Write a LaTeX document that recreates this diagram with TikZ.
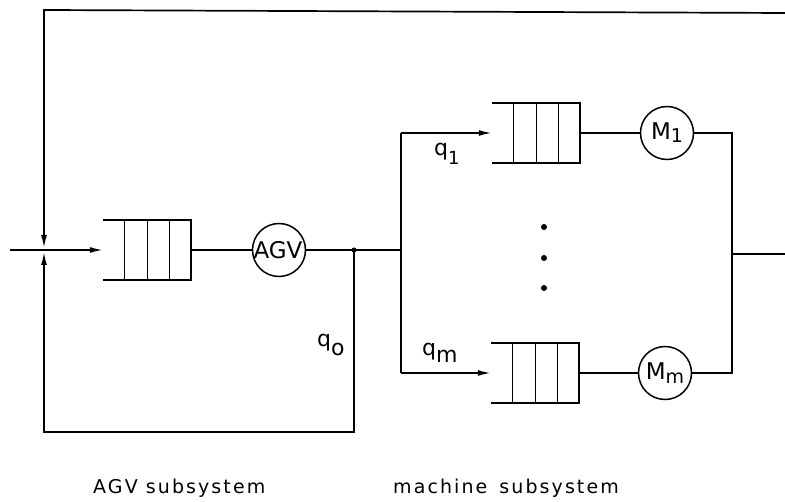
\documentclass[tikz,border=0pt]{standalone}
\usepackage{fontspec}
\setmainfont{DejaVu Sans}
\newfontfamily\spaced[LetterSpace=11]{DejaVu Sans}
\usetikzlibrary{arrows.meta,calc}
\begin{document}
\begin{tikzpicture}[x=1pt,y=-1pt,
  line/.style={line width=1.7pt},
  thin/.style={line width=0.9pt},
  arr/.style={line, -{Latex[length=13pt,width=6pt]}},
  queue/.style={rectangle, minimum width=88pt, minimum height=59pt, inner sep=0pt},
  server/.style={circle, draw, line width=1.5pt, minimum size=53pt, inner sep=0pt, font=\fontsize{23}{23}\selectfont},
  lab/.style={font=\spaced\fontsize{19}{22}\selectfont, inner sep=0pt},
  qlab/.style={font=\fontsize{22}{24}\selectfont, inner sep=0pt},
  dot/.style={circle, fill, inner sep=0pt, minimum size=6pt}]
\useasboundingbox (0,0) rectangle (785,502);

% nodes
\node[queue] (Q0) at (147,250) {};
\node[server] (AGV) at (279,250) {\hspace{-2pt}AGV\hspace{-2pt}};
\node[queue] (Q1) at (536,133) {};
\node[server] (M1) at (667,133) {M\raisebox{-3pt}{\fontsize{19}{19}\selectfont 1}};
\node[queue] (Qm) at (535,373) {};
\node[server] (Mm) at (665,373) {M\raisebox{-4pt}{\fontsize{19}{19}\selectfont m}};
\node[dot, minimum size=5pt] (D) at (354,250) {};
\node[dot] (d1) at (544,227) {};
\node[dot] (d2) at (544,258) {};
\node[dot] (d3) at (544,288) {};

% coordinates
\coordinate (TL) at (44,10);
\coordinate (TR) at (785,13);
\coordinate (IN) at (10,250);
\coordinate (Jt) at (44,248);
\coordinate (Jb) at (44,252);
\coordinate (BL) at (44,432);
\coordinate (BR) at (354,432);
\coordinate (B1) at (401,133);
\coordinate (Bc) at (401,250);
\coordinate (Bm) at (401,373);
\coordinate (R1) at (732,133);
\coordinate (Rc) at (732,254);
\coordinate (Rm) at (732,373);
\coordinate (OUT) at (785,254);

% queues
\foreach \q in {Q0,Q1,Qm}{
  \draw[line] (\q.north west) -- (\q.north east) -- (\q.south east) -- (\q.south west);
  \foreach \f in {0.25,0.5,0.75}
    \draw[thin] ($(\q.north west)!\f!(\q.north east)$) -- ($(\q.south west)!\f!(\q.south east)$);
}

% connectors
\draw[arr] (TR) -- (TL) -- (Jt);
\draw[arr] (D.center) -- (BR) -- (BL) -- (Jb);
\draw[arr] (IN) -- (Q0.west);
\draw[line] (Q0.east) -- (AGV);
\draw[line] (AGV) -- (D.center) -- (Bc);
\draw[line] (B1) -- (Bm);
\draw[arr] (B1) -- (Q1.west);
\draw[arr] (Bm) -- (Qm.west);
\draw[line] (Q1.east) -- (M1);
\draw[line] (Qm.east) -- (Mm);
\draw[line] (M1) -- (R1) -- (Rm) -- (Mm);
\draw[line] (Rc) -- (OUT);

% labels
\node[qlab, anchor=base west] (l0) at (317,347) {q\raisebox{-9pt}{o}};
\node[qlab, anchor=base west] (l1) at (434,156) {q\raisebox{-9pt}{\fontsize{18}{18}\selectfont 1}};
\node[qlab, anchor=base west] (lm) at (422,356) {q\raisebox{-7pt}{m}};
\node[lab, anchor=base west] (agvlab) at (93,494) {AGV subsystem};
\node[lab, anchor=base west] (maclab) at (393,494) {machine\hspace{12pt}subsystem};
\end{tikzpicture}
\end{document}
